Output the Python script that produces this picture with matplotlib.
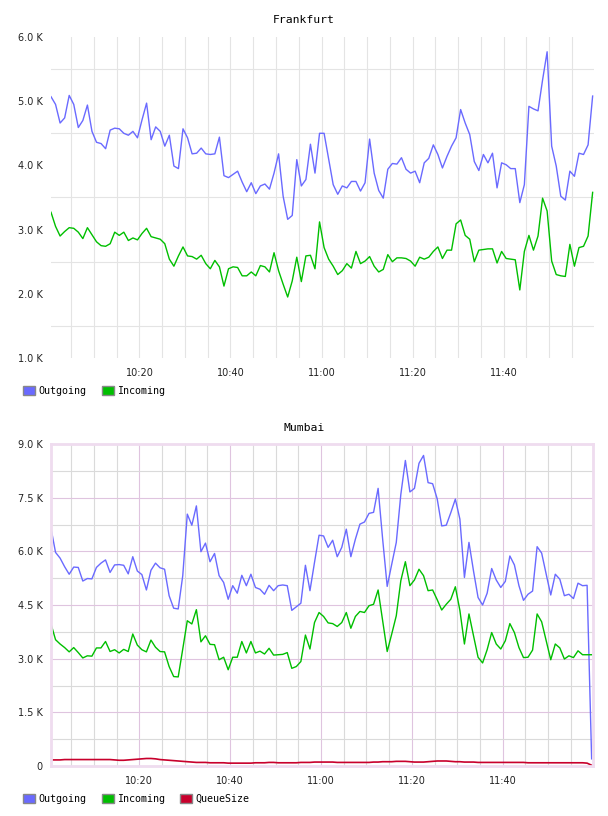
import matplotlib
matplotlib.use('Agg')
import matplotlib.pyplot as plt
import matplotlib.dates as mdates
from matplotlib.patches import Patch
from matplotlib.ticker import FixedLocator, NullFormatter, FuncFormatter
import pandas as pd

# one sample per minute, values in thousands
times = pd.date_range('2020-01-01 10:00:34', periods=120, freq='60s')

fra_out = [5.07, 4.95, 4.66, 4.74, 5.09, 4.95, 4.59, 4.70, 4.94, 4.53, 4.36, 4.34, 4.26, 4.55, 4.58, 4.57,
           4.50, 4.47, 4.53, 4.43, 4.71, 4.97, 4.40, 4.60, 4.53, 4.30, 4.47, 3.99, 3.95, 4.57, 4.43,
           4.18, 4.19, 4.27, 4.18, 4.17, 4.18, 4.44, 3.84, 3.81, 3.86, 3.91, 3.74, 3.59, 3.73, 3.56,
           3.68, 3.71, 3.63, 3.88, 4.18, 3.52, 3.16, 3.22, 4.09, 3.68, 3.78, 4.33, 3.88, 4.50, 4.50,
           4.10, 3.70, 3.55, 3.68, 3.65, 3.75, 3.75, 3.60, 3.73, 4.41, 3.88, 3.61, 3.49, 3.94, 4.03,
           4.02, 4.12, 3.94, 3.88, 3.91, 3.73, 4.04, 4.11, 4.32, 4.17, 3.96, 4.14, 4.30, 4.43, 4.87,
           4.66, 4.48, 4.06, 3.92, 4.17, 4.04, 4.19, 3.65, 4.04, 4.01, 3.95, 3.95, 3.42, 3.70, 4.92,
           4.88, 4.85, 5.33, 5.77, 4.30, 3.99, 3.52, 3.46, 3.91, 3.83, 4.19, 4.17, 4.32, 5.08]
fra_in = [3.27, 3.05, 2.90, 2.97, 3.03, 3.02, 2.96, 2.86, 3.03, 2.92, 2.81, 2.75, 2.74, 2.78, 2.96, 2.91,
          2.96, 2.83, 2.87, 2.84, 2.94, 3.02, 2.89, 2.87, 2.85, 2.78, 2.54, 2.43, 2.59, 2.73, 2.59,
          2.58, 2.54, 2.60, 2.47, 2.39, 2.52, 2.42, 2.12, 2.39, 2.42, 2.41, 2.28, 2.28, 2.34, 2.28,
          2.44, 2.42, 2.34, 2.64, 2.36, 2.15, 1.95, 2.20, 2.57, 2.19, 2.59, 2.60, 2.39, 3.12, 2.72,
          2.54, 2.43, 2.30, 2.36, 2.47, 2.40, 2.66, 2.47, 2.51, 2.58, 2.43, 2.34, 2.38, 2.61, 2.50,
          2.56, 2.56, 2.55, 2.51, 2.43, 2.57, 2.54, 2.57, 2.66, 2.73, 2.55, 2.68, 2.68, 3.09, 3.15,
          2.91, 2.85, 2.50, 2.68, 2.69, 2.70, 2.70, 2.48, 2.66, 2.55, 2.54, 2.53, 2.06, 2.66, 2.91,
          2.68, 2.90, 3.49, 3.29, 2.51, 2.30, 2.28, 2.27, 2.77, 2.43, 2.72, 2.74, 2.90, 3.58]

mum_out = [6.64, 5.97, 5.81, 5.57, 5.36, 5.56, 5.55, 5.17, 5.24, 5.23, 5.55, 5.67, 5.76, 5.41, 5.62, 5.63,
           5.61, 5.37, 5.85, 5.45, 5.35, 4.92, 5.47, 5.67, 5.54, 5.50, 4.76, 4.41, 4.39, 5.32, 7.04,
           6.73, 7.27, 5.99, 6.23, 5.71, 5.94, 5.32, 5.13, 4.66, 5.04, 4.83, 5.33, 5.04, 5.36, 4.99,
           4.94, 4.80, 5.05, 4.90, 5.04, 5.06, 5.04, 4.35, 4.45, 4.55, 5.61, 4.90, 5.69, 6.45, 6.43,
           6.11, 6.31, 5.85, 6.11, 6.62, 5.85, 6.34, 6.76, 6.82, 7.06, 7.09, 7.76, 6.34, 5.02, 5.64,
           6.25, 7.59, 8.54, 7.66, 7.76, 8.46, 8.68, 7.92, 7.89, 7.47, 6.71, 6.73, 7.08, 7.46, 6.90,
           5.27, 6.25, 5.45, 4.71, 4.50, 4.83, 5.52, 5.20, 4.99, 5.16, 5.87, 5.62, 5.04, 4.63, 4.80,
           4.89, 6.13, 5.95, 5.36, 4.78, 5.36, 5.22, 4.76, 4.80, 4.68, 5.11, 5.04, 5.05, 0.20]
mum_in = [3.97, 3.53, 3.41, 3.31, 3.19, 3.31, 3.17, 3.02, 3.08, 3.07, 3.30, 3.30, 3.48, 3.20, 3.25, 3.16,
          3.26, 3.20, 3.69, 3.38, 3.25, 3.19, 3.52, 3.32, 3.20, 3.19, 2.78, 2.50, 2.49, 3.27, 4.06,
          3.97, 4.37, 3.47, 3.64, 3.40, 3.39, 2.97, 3.04, 2.69, 3.04, 3.04, 3.48, 3.16, 3.48, 3.16,
          3.21, 3.13, 3.29, 3.10, 3.11, 3.12, 3.17, 2.73, 2.78, 2.92, 3.66, 3.27, 4.01, 4.29, 4.18,
          4.00, 3.98, 3.90, 4.01, 4.29, 3.85, 4.18, 4.32, 4.29, 4.48, 4.52, 4.92, 4.06, 3.20, 3.69,
          4.20, 5.18, 5.71, 5.04, 5.20, 5.50, 5.32, 4.90, 4.92, 4.65, 4.36, 4.52, 4.66, 5.01, 4.35,
          3.41, 4.25, 3.64, 3.04, 2.88, 3.25, 3.73, 3.41, 3.27, 3.50, 3.98, 3.73, 3.31, 3.03, 3.04,
          3.24, 4.25, 4.03, 3.50, 2.97, 3.41, 3.30, 2.99, 3.08, 3.03, 3.22, 3.11, 3.11, 3.11]
mum_queue = [0.17, 0.17, 0.17, 0.18, 0.18, 0.18, 0.18, 0.18, 0.18, 0.18,
             0.18, 0.18, 0.18, 0.18, 0.17, 0.16, 0.16, 0.17, 0.18, 0.19,
             0.20, 0.21, 0.21, 0.20, 0.18, 0.17, 0.16, 0.15, 0.14, 0.13,
             0.12, 0.11, 0.10, 0.10, 0.10, 0.09, 0.09, 0.09, 0.09, 0.08,
             0.08, 0.08, 0.08, 0.08, 0.08, 0.09, 0.09, 0.09, 0.10, 0.10,
             0.09, 0.09, 0.09, 0.09, 0.09, 0.10, 0.10, 0.10, 0.11, 0.11,
             0.11, 0.11, 0.11, 0.10, 0.10, 0.10, 0.10, 0.10, 0.10, 0.10,
             0.10, 0.11, 0.11, 0.12, 0.12, 0.12, 0.13, 0.13, 0.13, 0.12,
             0.11, 0.11, 0.11, 0.12, 0.13, 0.14, 0.14, 0.14, 0.13, 0.12,
             0.12, 0.11, 0.11, 0.11, 0.10, 0.10, 0.10, 0.10, 0.10, 0.10,
             0.10, 0.10, 0.10, 0.10, 0.10, 0.09, 0.09, 0.09, 0.09, 0.09,
             0.09, 0.09, 0.09, 0.09, 0.09, 0.09, 0.09, 0.09, 0.08, 0.02]

fra_yticks = [1, 2, 3, 4, 5, 6]
fra_ygrid = [1.5, 2.5, 3.5, 4.5, 5.5]
mum_yticks = [0, 1.5, 3, 4.5, 6, 7.5, 9]
mum_ygrid = [0.75, 2.25, 3.75, 5.25, 6.75, 8.25]

c_out = '#6a6aff'
c_in = '#00bf00'
c_queue = '#c8002c'

W, H = 608, 816
fig = plt.figure(figsize=(W / 100, H / 100), dpi=100)
mono = 'DejaVu Sans Mono'


def kfmt(v, pos):
    return '0' if v == 0 else f'{v:.1f} K'


def setup(ax, ylim, yticks, ygrid, minor_c):
    # stop just before 12:00 so no tick/grid appears there
    ax.set_xlim(times[0], times[0] + pd.Timedelta(minutes=119.3))
    ax.set_ylim(*ylim)
    ax.xaxis.set_major_locator(mdates.MinuteLocator(byminute=[0, 20, 40]))
    ax.xaxis.set_minor_locator(mdates.MinuteLocator(byminute=range(0, 60, 5)))
    ax.xaxis.set_major_formatter(mdates.DateFormatter('%H:%M'))
    ax.yaxis.set_major_locator(FixedLocator(yticks))
    ax.yaxis.set_minor_locator(FixedLocator(ygrid))
    ax.yaxis.set_major_formatter(FuncFormatter(kfmt))
    ax.yaxis.set_minor_formatter(NullFormatter())
    ax.tick_params(which='both', length=0, labelsize=7, colors='#222222')
    ax.tick_params(axis='y', pad=6)
    ax.tick_params(axis='x', pad=7)
    ax.grid(True, which='minor', color=minor_c, lw=0.8)
    ax.set_axisbelow(True)


# Frankfurt
ax1 = fig.add_axes([51 / W, 1 - 358 / H, 543 / W, 321 / H])
ax1.plot(times, fra_out, color=c_out, lw=1.0)
ax1.plot(times, fra_in, color=c_in, lw=1.0)
setup(ax1, (1, 6), fra_yticks, fra_ygrid, '#e4e4e4')
ax1.grid(True, which='major', axis='x', color='#e4e4e4', lw=0.8)
for s in ax1.spines.values():
    s.set_visible(False)
fig.text(0.5, 1 - 20 / H, 'Frankfurt', ha='center', va='center', family=mono, fontsize=8.2)
ax1.legend(handles=[Patch(facecolor=c_out, edgecolor='#888888', label='Outgoing'),
                    Patch(facecolor=c_in, edgecolor='#888888', label='Incoming')],
           loc='upper left', bbox_to_anchor=(23 / W, 1 - 386 / H), bbox_transform=fig.transFigure,
           ncol=2, frameon=False, borderpad=0, borderaxespad=0, handlelength=1.2, handleheight=1.0,
           handletextpad=0.35, columnspacing=1.5, prop={'family': mono, 'size': 7.2})

# Mumbai
ax2 = fig.add_axes([51 / W, 1 - 766 / H, 542 / W, 322 / H])
ax2.plot(times, mum_out, color=c_out, lw=1.0)
ax2.plot(times, mum_in, color=c_in, lw=1.0)
ax2.plot(times, mum_queue, color=c_queue, lw=1.2)
setup(ax2, (0, 9), mum_yticks, mum_ygrid, '#dadada')
ax2.grid(True, which='major', color='#dfc4df', lw=0.8)
for s in ax2.spines.values():
    s.set_color('#efdcef')
    s.set_linewidth(2)
fig.text(0.5, 1 - 428 / H, 'Mumbai', ha='center', va='center', family=mono, fontsize=8.2)
ax2.legend(handles=[Patch(facecolor=c_out, edgecolor='#888888', label='Outgoing'),
                    Patch(facecolor=c_in, edgecolor='#888888', label='Incoming'),
                    Patch(facecolor=c_queue, edgecolor='#888888', label='QueueSize')],
           loc='upper left', bbox_to_anchor=(23 / W, 1 - 794 / H), bbox_transform=fig.transFigure,
           ncol=3, frameon=False, borderpad=0, borderaxespad=0, handlelength=1.2, handleheight=1.0,
           handletextpad=0.35, columnspacing=1.5, prop={'family': mono, 'size': 7.2})

fig.savefig('out.png', dpi=100)
